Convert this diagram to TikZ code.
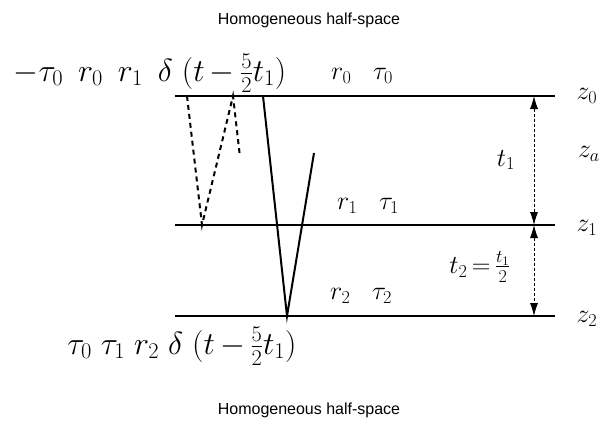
\RequirePackage{fix-cm}
\documentclass[tikz,border=0pt]{standalone}
\usepackage{amsmath}
\usepackage{fontspec}
\setmainfont{Liberation Sans}
\usetikzlibrary{arrows.meta}

\newcommand{\gp}{\hspace{9pt}}
\newcommand{\wgp}{\hspace{15pt}}

\begin{document}
\begin{tikzpicture}[>={Latex[length=13pt,width=8pt]},x=1pt,y=-1pt,
  every node/.style={font=\fontsize{26}{30}\selectfont},
  layer/.style={line width=2.6pt},
  ray/.style={line width=2pt},
  ghost/.style={line width=2pt,dash pattern=on 5pt off 4pt},
  gap/.style={<->,densely dashed,line width=0.8pt},
  pulse/.style={inner sep=0pt,font=\fontsize{32}{36}\selectfont},
  title/.style={font=\fontsize{16}{19}\selectfont}]
\useasboundingbox (0,0) rectangle (603,426);
% 1. half-spaces
\node[title] (top) at (309,20) {Homogeneous half-space};
\node[title] (bot) at (309,410) {Homogeneous half-space};

% 2. interfaces
\draw[layer] (175,96) coordinate (l0) -- (555,96) coordinate (e0);
\draw[layer] (175,225) coordinate (l1) -- (555,225) coordinate (e1);
\draw[layer] (175,316) coordinate (l2) -- (555,316) coordinate (e2);
\node (z0) at (587,96) {$z_0$};
\node (za) at (589,154) {$z_a$};
\node (z1) at (587,228) {$z_1$};
\node (z2) at (587,319) {$z_2$};
\node (p0) at (362,76) {$r_0\;\;\;\tau_0$};
\node (p1) at (368,206) {$r_1\;\;\;\tau_1$};
\node (p2) at (361,296) {$r_2\;\;\;\tau_2$};

% 3. rays
\draw[ghost] (187,96) -- (202,225) -- (233,96) -- (240,157);
\draw[ray] (263,96) -- (287,316) -- (314,153);
\node[pulse] (refl) at (150,73) {$-\tau_0\wgp r_0\wgp r_1\wgp\delta\gp(t\,{-}\,\tfrac{5}{2}t_1)$};
\node[pulse] (tran) at (182,346) {$\tau_0\gp\tau_1\gp r_2\gp\delta\gp(t\,{-}\,\tfrac{5}{2}t_1)$};

% 4. travel times
\coordinate (a0) at (534,96);
\coordinate (a1) at (534,225);
\coordinate (a2) at (534,316);
\draw[gap] (a0) -- (a1);
\draw[gap] (a1) -- (a2);
\node (t1) at (506,160) {$t_1$};
\node (t2) at (480,267) {$t_2\,{=}\,\tfrac{t_1}{2}$};
\end{tikzpicture}
\end{document}
